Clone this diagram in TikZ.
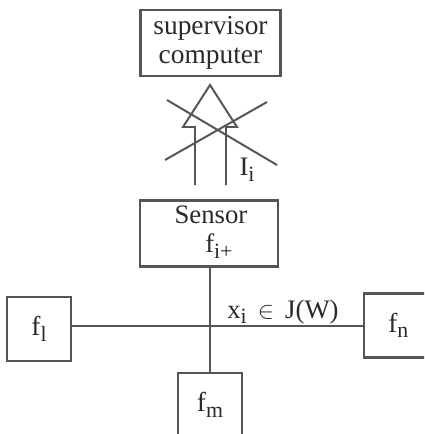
\documentclass[tikz,border=0pt]{standalone}
\usepackage{fontspec}
\setmainfont{Liberation Serif}
\usepackage{tikz}
\usetikzlibrary{positioning,calc}
\definecolor{ink}{HTML}{555555}
\definecolor{txt}{HTML}{2A2A2A}
\newcommand\subx[1]{\raisebox{-0.45ex}{\fontsize{15.5}{16}\selectfont #1}}

\begin{document}
\begin{tikzpicture}[x=0.025cm, y=-0.025cm,
    box/.style={draw=ink, line width=2.1pt, fill=white,
                align=center, font=\fontsize{19.5}{21}\selectfont,
                text=txt, inner sep=2pt},
    fbox/.style={box, minimum width=1.6cm, minimum height=1.6cm},
    wire/.style={draw=ink, line width=2.1pt},
    thin/.style={draw=ink, line width=1.4pt, line join=miter},
    lbl/.style={font=\fontsize{19}{20}\selectfont, text=txt, inner sep=0pt},
  ]
    \clip (0,0) rectangle (424,434);
    \fill[white] (0,0) rectangle (424,434);

    \node[box, minimum width=3.5cm, minimum height=1.65cm] (sup) at (210.5,43)
      {supervisor\\computer};
    \node[box, minimum width=3.45cm, minimum height=1.67cm] (sen) at (209,233.5) {};
    \node[lbl] (senT) at (211,215) {Sensor};
    \node[lbl, anchor=west] (senF) at (205,246) {f\subx{i+}};

    \node[fbox] (fl) at (39,329) {f\subx{l}};
    \node[fbox] (fn) at (396,325.5) {\,f\subx{n}};
    \node[fbox] (fm) at (210,405) {f\subx{m}};

    % bus
    \coordinate (jn) at (210,326);
    \draw[wire] (jn -| fl.east) -- (jn -| fn.west);
    \draw[wire] (jn |- sen.south) -- (jn |- fm.north);
    \node[lbl] (xi) at (283,312) {x\subx{i}\, $\in$\, J(W)};

    % hollow arrow, crossed out
    \draw[thin] (195,185) -- (195,127) -- (183,127) -- (210,85)
      -- (237,127) -- (226,127) -- (226,185);
    \draw[thin] (167,100) -- (277,165);
    \draw[thin] (165,160) -- (267,102);
    \node[lbl] (ii) at (247,170) {I\subx{i}};
  \end{tikzpicture}
\end{document}
